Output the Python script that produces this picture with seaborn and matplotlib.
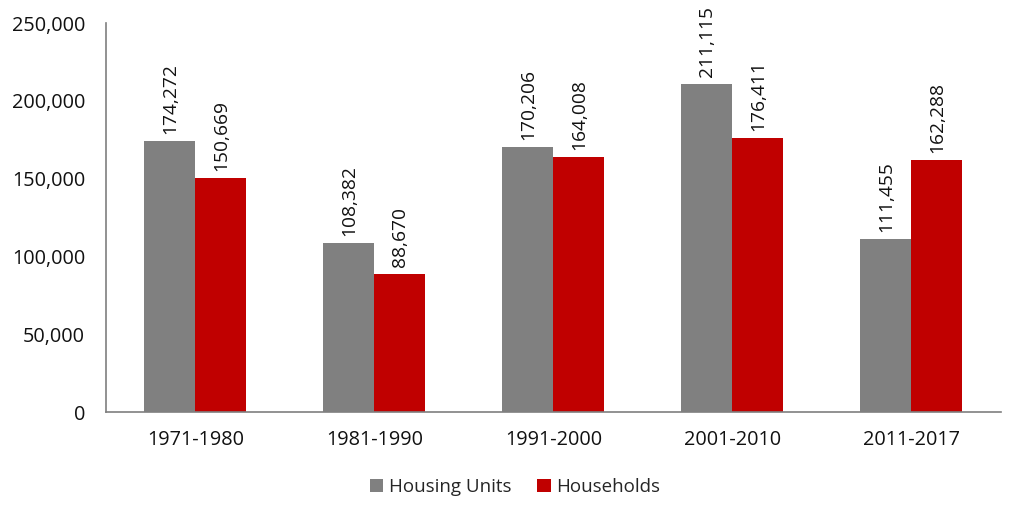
import pandas as pd
import matplotlib
matplotlib.use('Agg')
import matplotlib.pyplot as plt
import seaborn as sns

periods = ['1971-1980', '1981-1990', '1991-2000', '2001-2010', '2011-2017']
housing_units = [174272, 108382, 170206, 211115, 111455]
households = [150669, 88670, 164008, 176411, 162288]

df = pd.DataFrame({
    'Period': periods * 2,
    'Value': housing_units + households,
    'Series': ['Housing Units'] * 5 + ['Households'] * 5,
})

sns.set_style('white')
plt.rcParams['font.family'] = ['Open Sans', 'DejaVu Sans']

fig = plt.figure(figsize=(10.24, 5.17), dpi=100)
ax = fig.add_axes([0.1035, 0.203, 0.874, 0.7525])

sns.barplot(data=df, x='Period', y='Value', hue='Series',
            palette=['#808080', '#C00000'], width=0.57, saturation=1,
            edgecolor='none', ax=ax)

for cont in ax.containers:
    ax.bar_label(cont, labels=[f'{v:,.0f}' for v in cont.datavalues],
                 rotation=90, padding=5, fontsize=13.8, color='#111111')

ax.set_ylim(0, 250000)
ax.set_yticks(range(0, 250001, 50000))
ax.set_yticklabels([f'{v:,}' for v in range(0, 250001, 50000)])
ax.set_xlim(-0.5, 4.5)
ax.set_xlabel('')
ax.set_ylabel('')
ax.tick_params(axis='both', length=0, labelsize=14.3, colors='#111111')
ax.tick_params(axis='x', pad=13)
ax.tick_params(axis='y', pad=15)

sns.despine(ax=ax)
for side in ['left', 'bottom']:
    ax.spines[side].set_color('#7f7f7f')
    ax.spines[side].set_linewidth(1.2)

handles, labels = ax.get_legend_handles_labels()
ax.get_legend().remove()
fig.legend(handles, labels, loc='center', bbox_to_anchor=(0.503, 0.058), ncol=2,
           frameon=False, fontsize=13.5, handlelength=0.7, handleheight=0.7,
           handletextpad=0.3, columnspacing=1.4)

fig.savefig('out.png', dpi=100)
